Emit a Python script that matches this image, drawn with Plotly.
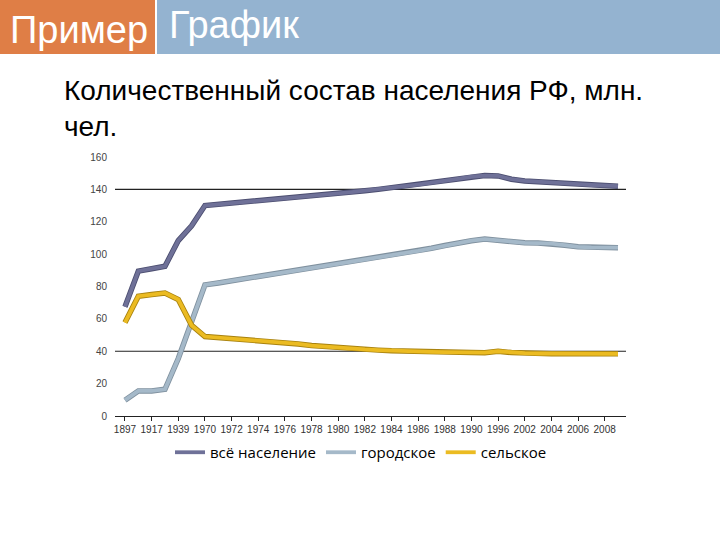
import plotly.graph_objects as go

years = ["1897", "1914", "1917", "1926", "1939", "1959", "1970", "1971", "1972", "1973",
         "1974", "1975", "1976", "1977", "1978", "1979", "1980", "1981", "1982", "1983",
         "1984", "1985", "1986", "1987", "1988", "1989", "1990", "1991", "1996", "2001",
         "2002", "2003", "2004", "2005", "2006", "2007", "2008", "2009"]
total = [67.5, 89.5, 91.0, 92.5, 108.4, 117.5, 130.0, 130.7, 131.4, 132.1,
         132.8, 133.5, 134.3, 135.1, 135.9, 136.7, 137.5, 138.3, 139.1, 140.0,
         141.0, 142.0, 143.0, 144.0, 145.2, 146.5, 147.8, 148.5, 148.3, 146.3,
         145.2, 144.8, 144.5, 143.8, 143.2, 142.7, 142.3, 142.0]
urban = [9.8, 15.5, 15.5, 16.5, 35.5, 58.0, 81.0, 82.2, 83.5, 84.8,
         86.2, 87.6, 89.0, 90.2, 91.4, 92.6, 93.8, 95.0, 96.3, 97.6,
         99.0, 100.5, 102.0, 103.6, 105.3, 107.0, 108.3, 109.3, 108.5, 107.3,
         107.0, 106.8, 106.5, 105.5, 104.5, 104.2, 104.0, 104.0]
rural = [57.7, 74.0, 75.0, 76.0, 72.0, 56.0, 49.1, 48.5, 48.0, 47.3,
         46.6, 45.8, 45.2, 44.5, 43.5, 42.8, 42.2, 41.6, 41.1, 40.7,
         40.3, 40.0, 39.8, 39.6, 39.4, 39.2, 39.2, 39.1, 40.0, 39.2,
         38.8, 38.6, 38.5, 38.5, 38.6, 38.5, 38.4, 38.4]
series_names = ["всё население", "городское", "сельское"]
series_colors = ["#6F7198", "#A5B9C9", "#EBBB22"]
outline_colors = ["#4C4E70", "#7F909E", "#A8820F"]
y_ticks = [0, 20, 40, 60, 80, 100, 120, 140, 160]
grid_values = [40, 140]

idx = list(range(len(years)))
label_idx = idx[::2]
label_text = years[::2]

# plot area in pixels
L, R, T, B = 115, 626, 157, 416
W, H = 720, 540


def px(x):
    return (x - L) / (R - L)


def py(y):
    return (B - y) / (B - T)


fig = go.Figure()
for vals, name, col, oc in zip([total, urban, rural], series_names, series_colors, outline_colors):
    fig.add_trace(go.Scatter(x=idx, y=vals, mode="lines", showlegend=False,
                             line=dict(color=oc, width=5.5), hoverinfo="skip"))
    fig.add_trace(go.Scatter(x=idx, y=vals, mode="lines", name=name,
                             line=dict(color=col, width=3.8)))

for g in grid_values:
    fig.add_shape(type="line", xref="paper", yref="y", x0=0, x1=1, y0=g, y1=g,
                  line=dict(color="#222222", width=1.2), layer="below")

# header bars
fig.add_shape(type="rect", xref="paper", yref="paper", x0=px(0), x1=px(155), y0=py(54), y1=py(0),
              fillcolor="#DF7E46", line=dict(width=0), layer="below")
fig.add_shape(type="rect", xref="paper", yref="paper", x0=px(157), x1=px(720), y0=py(54), y1=py(0),
              fillcolor="#94B3D0", line=dict(width=0), layer="below")

head_font = dict(family="Liberation Sans, Arial", size=38, color="white")
fig.add_annotation(text="Пример", xref="paper", yref="paper", x=px(8), y=py(30),
                   xanchor="left", yanchor="middle", showarrow=False, font=head_font)
fig.add_annotation(text="График", xref="paper", yref="paper", x=px(167), y=py(25),
                   xanchor="left", yanchor="middle", showarrow=False, font=head_font)
fig.add_annotation(text="Количественный состав населения РФ, млн.<br>чел.", xref="paper", yref="paper",
                   x=px(62), y=py(73), xanchor="left", yanchor="top", align="left", showarrow=False,
                   font=dict(family="Liberation Sans, Arial", size=28, color="black"))

fig.update_layout(
    width=W, height=H,
    margin=dict(l=L, r=W - R, t=T, b=H - B),
    paper_bgcolor="white", plot_bgcolor="white",
    xaxis=dict(range=[-0.75, 37.6], tickmode="array", tickvals=label_idx, ticktext=label_text,
               showgrid=False, zeroline=False, showline=True, linecolor="#222222", linewidth=1.2,
               ticks="outside", ticklen=4, tickcolor="#222222",
               tickfont=dict(family="Liberation Sans, Arial", size=10, color="#333333"),
               tickangle=0),
    yaxis=dict(range=[0, 160], tickmode="array", tickvals=y_ticks, showgrid=False, zeroline=False,
               showline=False, ticks="", ticklabelstandoff=7,
               tickfont=dict(family="Liberation Sans, Arial", size=10, color="#444444")),
    legend=dict(orientation="h", x=px(361), xanchor="center", y=py(436), yanchor="top",
                font=dict(family="Open Sans, DejaVu Sans", size=15, color="black"),
                itemwidth=30, tracegroupgap=0, bgcolor="rgba(0,0,0,0)"),
    showlegend=True,
)

fig.write_html("out.html")
